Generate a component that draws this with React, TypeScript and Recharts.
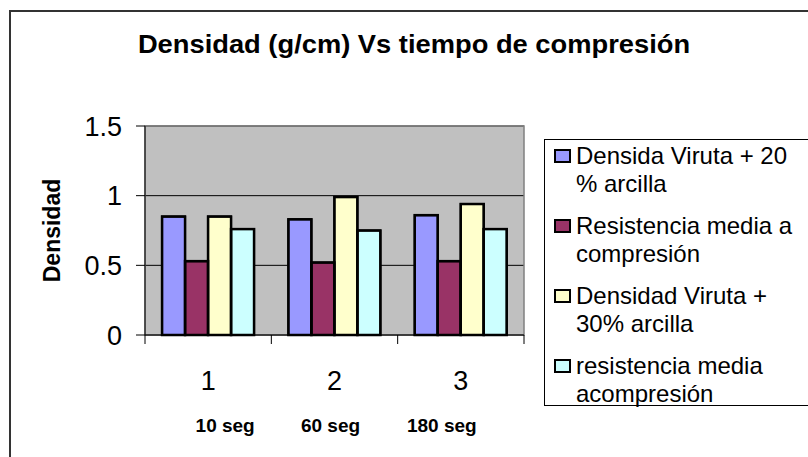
import { BarChart, Bar, XAxis, YAxis, CartesianGrid, Legend, ReferenceArea, LabelList } from 'recharts'

const categories = ['1', '2', '3']
const subLabels = ['10 seg', '60 seg', '180 seg']
const subLabelShift = [17, -4, -19]

const densidad20 = [0.85, 0.83, 0.86]
const resistencia = [0.53, 0.52, 0.53]
const densidad30 = [0.85, 0.99, 0.94]
const resistencia2 = [0.76, 0.75, 0.76]

const seriesNames = [
  'Densida Viruta + 20\n% arcilla',
  'Resistencia media a\ncompresión',
  'Densidad Viruta +\n30% arcilla',
  'resistencia media\nacompresión',
]
const yTicks = [0, 0.5, 1, 1.5]

const colors = ['#9999FF', '#993366', '#FFFFCC', '#CCFFFF']
const font = '"Liberation Sans", Arial, sans-serif'

const data = categories.map((c, i) => ({
  cat: c,
  s1: densidad20[i],
  s2: resistencia[i],
  s3: densidad30[i],
  s4: resistencia2[i],
}))

function CategoryTick(props: any) {
  const { x, y, payload, index } = props
  const half = payload?.offset ?? 0
  const axisY = y - 9
  return (
    <g>
      {index === 0 && <line x1={x - half} x2={x - half} y1={axisY} y2={y} stroke="#000" />}
      <line x1={x + half} x2={x + half} y1={axisY} y2={y} stroke="#000" />
      <text x={x} y={y + 46} textAnchor="middle" fontSize={27} fill="#000" fontFamily={font}>
        {payload.value}
      </text>
      <text
        x={x + subLabelShift[index]}
        y={y + 88}
        textAnchor="middle"
        fontSize={19}
        fontWeight="bold"
        fill="#000"
        fontFamily={font}
      >
        {subLabels[index]}
      </text>
    </g>
  )
}

function YLabel(props: any) {
  const { viewBox } = props
  const cx = viewBox.x + 22
  const cy = viewBox.y + viewBox.height / 2
  return (
    <text
      x={cx}
      y={cy}
      transform={`rotate(-90 ${cx} ${cy})`}
      textAnchor="middle"
      dominantBaseline="central"
      fontSize={23}
      fontWeight="bold"
      fill="#000"
      fontFamily={font}
    >
      Densidad
    </text>
  )
}

// black outline drawn over each bar from the label geometry
function BarOutline(props: any) {
  const { x, y, width, height } = props
  if (x == null || !width || !height) return null
  const top = Math.min(y, y + height)
  return (
    <rect
      x={x}
      y={top}
      width={width}
      height={Math.abs(height)}
      fill="none"
      stroke="#000"
      strokeWidth={2.5}
    />
  )
}

function LegendBox(props: any) {
  const { payload } = props
  const items = [...(payload || [])].sort((a: any, b: any) => String(a.dataKey).localeCompare(String(b.dataKey)))
  return (
    <div
      style={{
        border: '1px solid #000',
        background: '#fff',
        height: 267,
        paddingTop: 2,
        boxSizing: 'border-box',
        fontFamily: font,
        fontSize: 24,
        lineHeight: '28px',
        color: '#000',
      }}
    >
      {items.map((entry: any, i: number) => (
        <div key={i} style={{ position: 'relative', height: 56, marginBottom: 14, paddingLeft: 31, whiteSpace: 'pre-line' }}>
          <span
            style={{
              position: 'absolute',
              left: 9,
              top: 7,
              width: 17,
              height: 14,
              boxSizing: 'border-box',
              border: '2px solid #000',
              background: entry.color,
            }}
          />
          {entry.value}
        </div>
      ))}
    </div>
  )
}

export default function App() {
  const keys = ['s1', 's2', 's3', 's4']
  return (
    <div style={{ position: 'absolute', left: 0, top: 0, width: 808, height: 457, overflow: 'hidden', background: '#fff' }}>
      <div
        style={{
          position: 'absolute',
          left: 9,
          top: 10,
          width: 900,
          height: 500,
          border: '2px solid #333',
        }}
      />
      <div
        style={{
          position: 'absolute',
          left: 414,
          top: 31,
          transform: 'translateX(-50%) scaleX(1.05)',
          whiteSpace: 'nowrap',
          fontFamily: font,
          fontWeight: 'bold',
          fontSize: 26,
          lineHeight: '26px',
          color: '#000',
        }}
      >
        Densidad (g/cm) Vs tiempo de compresión
      </div>
      <div style={{ position: 'absolute', left: 0, top: 0 }}>
        <BarChart
          width={808}
          height={457}
          data={data}
          margin={{ top: 126, right: 284, bottom: 62, left: 30 }}
          barGap={0}
          barCategoryGap="13.5%"
        >
          <CartesianGrid vertical={false} stroke="#000" fill="#C0C0C0" />
          <ReferenceArea y1={0} y2={1.5} fill="none" stroke="#808080" strokeWidth={1.5} ifOverflow="visible" />
          {keys.map((k, i) => (
            <Bar
              key={k}
              dataKey={k}
              name={seriesNames[i]}
              fill={colors[i]}
              stroke="#000"
              strokeWidth={2}
              isAnimationActive={false}
            >
              <LabelList dataKey={k} content={<BarOutline />} />
            </Bar>
          ))}
          <XAxis
            dataKey="cat"
            height={60}
            tickLine={false}
            tickSize={9}
            tickMargin={0}
            axisLine={{ stroke: '#000' }}
            interval={0}
            tick={<CategoryTick />}
          />
          <YAxis
            width={115}
            domain={[0, 1.5]}
            ticks={yTicks}
            tickSize={9}
            tickMargin={14}
            axisLine={{ stroke: '#000' }}
            tickLine={{ stroke: '#000' }}
            tick={{ fontSize: 27, fill: '#000', fontFamily: font }}
            label={{ content: <YLabel /> }}
          />
          <Legend
            layout="vertical"
            align="center"
            verticalAlign="middle"
            content={<LegendBox />}
            wrapperStyle={{ left: 544, top: 139, width: 300, height: 267 }}
          />
        </BarChart>
      </div>
    </div>
  )
}
